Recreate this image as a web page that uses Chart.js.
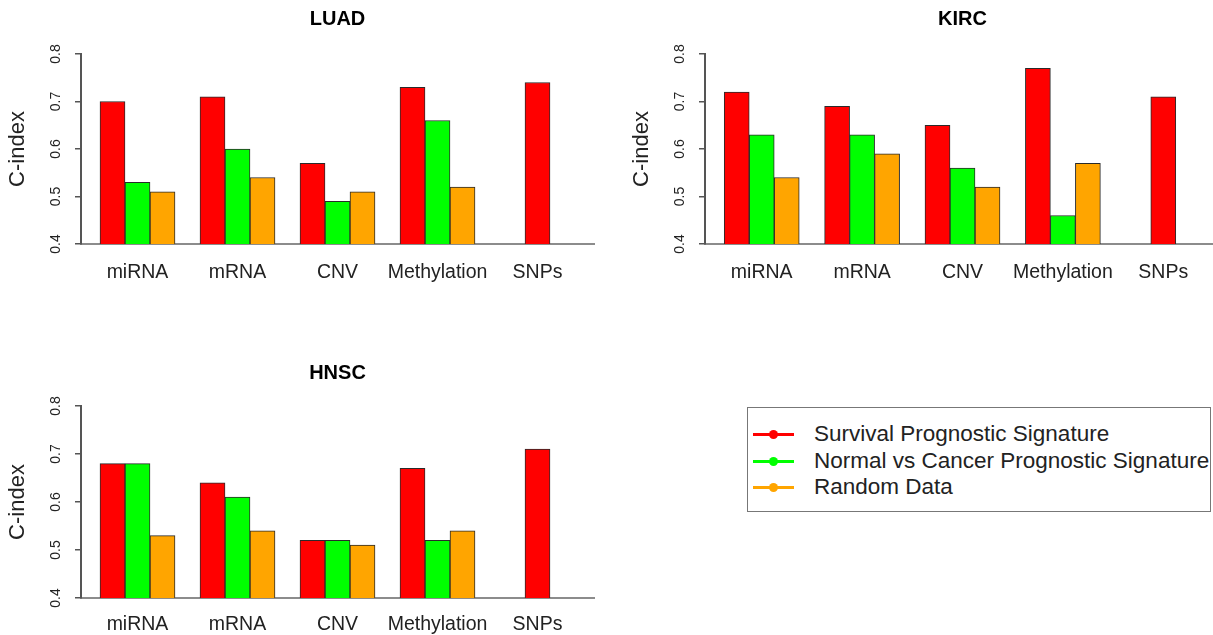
<!DOCTYPE html>
<html>
<head>
<meta charset="utf-8">
<script src="https://cdn.jsdelivr.net/npm/chart.js@4.4.1/dist/chart.umd.min.js"></script>
<style>
    html, body { margin: 0; padding: 0; background: #fff; overflow: hidden; }
    body { width: 1213px; height: 635px; position: relative; font-family: "Liberation Sans", Arial, sans-serif; }
    canvas { position: absolute; }
    #legend {
        position: absolute; left: 747px; top: 407px; width: 462px; height: 103px;
        border: 1.5px solid #777; color: #222; font-size: 22.5px;
    }
    .row { position: absolute; left: 0; height: 26px; line-height: 26px; white-space: nowrap; }
    .mark { position: absolute; left: 5px; top: 12px; width: 41px; height: 3px; }
    .dot { position: absolute; left: 16px; top: -3px; width: 9px; height: 9px; border-radius: 50%; }
    .txt { position: absolute; left: 66px; top: 0; }
</style>
</head>
<body>
<canvas id="luad" width="600" height="310" style="left:0;top:0"></canvas>
<canvas id="kirc" width="600" height="310" style="left:624px;top:0"></canvas>
<canvas id="hnsc" width="600" height="300" style="left:0;top:352px"></canvas>
<div id="legend"></div>
<script>
const categories = ['miRNA', 'mRNA', 'CNV', 'Methylation', 'SNPs'];
const seriesNames = ['Survival Prognostic Signature', 'Normal vs Cancer Prognostic Signature', 'Random Data'];
const seriesColors = ['#ff0000', '#00ff00', '#ffa500'];

// C-index values per cohort (SNPs only has the survival signature)
const luadSurvival = [0.70, 0.71, 0.57, 0.73, 0.74];
const luadNormal = [0.53, 0.60, 0.49, 0.66, null];
const luadRandom = [0.51, 0.54, 0.51, 0.52, null];

const kircSurvival = [0.72, 0.69, 0.65, 0.77, 0.71];
const kircNormal = [0.63, 0.63, 0.56, 0.46, null];
const kircRandom = [0.54, 0.59, 0.52, 0.57, null];

const hnscSurvival = [0.68, 0.64, 0.52, 0.67, 0.71];
const hnscNormal = [0.68, 0.61, 0.52, 0.52, null];
const hnscRandom = [0.53, 0.54, 0.51, 0.54, null];

const yMin = 0.4;
const yMax = 0.8;
const yStep = 0.1;

const FONT = '"Liberation Sans", Arial, sans-serif';

function toPoints(values) {
    return values.map((v, i) => ({ x: i, y: v }));
}

function makePanel(id, title, series, pad) {
    var ctx = document.getElementById(id).getContext('2d');
    var datasets = series.map((values, k) => ({
        label: seriesNames[k],
        data: toPoints(values),
        backgroundColor: seriesColors[k],
        borderColor: '#2a2a2a',
        borderWidth: 1,
        borderSkipped: false,
        barThickness: 25
    }));
    return new Chart(ctx, {
        type: 'bar',
        data: { datasets: datasets },
        options: {
            responsive: false,
            animation: false,
            skipNull: true,
            layout: { padding: { left: 0, right: pad.right, top: 0, bottom: pad.bottom } },
            plugins: {
                legend: { display: false },
                tooltip: { enabled: false },
                title: {
                    display: true,
                    text: title,
                    fullSize: false,
                    color: '#000',
                    font: { family: FONT, size: 20, weight: 'bold' },
                    padding: { top: pad.titleTop, bottom: pad.titleBottom }
                }
            },
            scales: {
                x: {
                    type: 'linear',
                    offset: false,
                    min: -0.565,
                    max: 4.565,
                    grid: { display: false, drawTicks: false },
                    border: { display: true, color: '#8c8c8c', width: 2 },
                    ticks: {
                        stepSize: 1,
                        includeBounds: false,
                        padding: pad.xLabel,
                        color: '#222',
                        font: { family: FONT, size: 19.5 },
                        maxRotation: 0,
                        autoSkip: false,
                        callback: (v) => categories[v] || ''
                    }
                },
                y: {
                    min: yMin,
                    max: yMax,
                    afterFit: (scale) => { scale.width = 81; },
                    grid: { drawOnChartArea: false, drawTicks: true, tickLength: 6, color: '#555', lineWidth: 1.5 },
                    border: { display: true, color: '#555', width: 2 },
                    ticks: {
                        stepSize: yStep,
                        minRotation: 90,
                        maxRotation: 90,
                        crossAlign: 'center',
                        padding: 9,
                        color: '#222',
                        font: { family: FONT, size: 14 },
                        callback: (v) => v.toFixed(1)
                    },
                    title: {
                        display: true,
                        text: 'C-index',
                        color: '#222',
                        font: { family: FONT, size: 22 },
                        padding: { top: 5, bottom: 0 }
                    }
                }
            }
        }
    });
}

makePanel('luad', 'LUAD', [luadSurvival, luadNormal, luadRandom],
    { right: 6, bottom: 8.6, titleTop: 7.5, titleBottom: 22.5, xLabel: 17 });
makePanel('kirc', 'KIRC', [kircSurvival, kircNormal, kircRandom],
    { right: 4, bottom: 8.6, titleTop: 7.5, titleBottom: 22.5, xLabel: 17 });
makePanel('hnsc', 'HNSC', [hnscSurvival, hnscNormal, hnscRandom],
    { right: 6, bottom: 0, titleTop: 9, titleBottom: 21, xLabel: 15.3 });

// legend box in the empty bottom-right slot
var legend = document.getElementById('legend');
seriesNames.forEach((name, k) => {
    var row = document.createElement('div');
    row.className = 'row';
    row.style.top = (13 + k * 26.7) + 'px';
    row.innerHTML = '<div class="mark" style="background:' + seriesColors[k] + '">' +
        '<div class="dot" style="background:' + seriesColors[k] + '"></div></div>' +
        '<span class="txt">' + name + '</span>';
    legend.appendChild(row);
});
</script>
</body>
</html>
